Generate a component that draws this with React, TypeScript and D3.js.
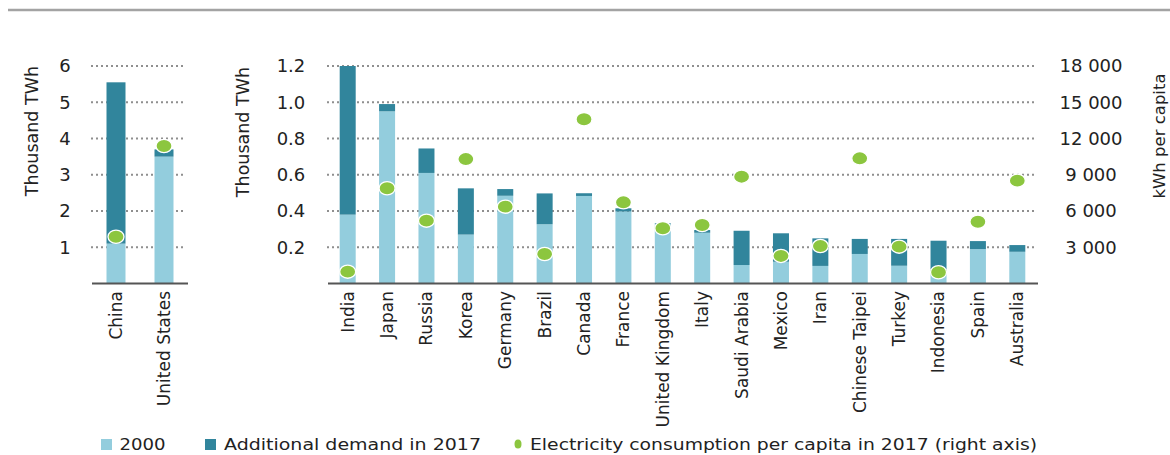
import * as d3 from "d3";

// ---- data ----
const leftCats = ["China", "United States"];
const left2000 = [1.1, 3.5];
const leftAdded = [4.45, 0.2];
const leftPerCapita = [3870, 11380];
const leftTicks = [1, 2, 3, 4, 5, 6];

const rightCats = [
  "India", "Japan", "Russia", "Korea", "Germany", "Brazil", "Canada", "France",
  "United Kingdom", "Italy", "Saudi Arabia", "Mexico", "Iran", "Chinese Taipei",
  "Turkey", "Indonesia", "Spain", "Australia",
];
const right2000 = [
  0.38, 0.95, 0.61, 0.27, 0.484, 0.327, 0.483, 0.397, 0.327, 0.28, 0.102, 0.12,
  0.097, 0.163, 0.098, 0.08, 0.19, 0.175,
];
const rightAdded = [
  0.82, 0.04, 0.135, 0.255, 0.037, 0.17, 0.015, 0.018, 0.005, 0.015, 0.189, 0.157,
  0.152, 0.083, 0.148, 0.156, 0.044, 0.037,
];
const rightPerCapita = [
  980, 7880, 5200, 10300, 6360, 2440, 13590, 6720, 4570, 4840, 8840, 2280, 3100,
  10360, 3050, 930, 5110, 8510,
];
const rightTicks = [0.2, 0.4, 0.6, 0.8, 1.0, 1.2];
const perCapitaTicks = [3000, 6000, 9000, 12000, 15000, 18000];

const legendLabels = [
  "2000",
  "Additional demand in 2017",
  "Electricity consumption per capita in 2017 (right axis)",
];

// ---- styling ----
const W = 1170;
const H = 455;
const Y0 = 283.5;
const YTOP = 66;
const LIGHT = "#93cddd";
const DARK = "#31859c";
const GREEN = "#8cc63f";
const GRID = "#8f8f8f";
const TEXT = "#222";
const FONT = "'DejaVu Sans', sans-serif";

const yLeft = d3.scaleLinear().domain([0, 6]).range([Y0, YTOP]);
const yRight = d3.scaleLinear().domain([0, 1.2]).range([Y0, YTOP]);
const yPC = d3.scaleLinear().domain([0, 18000]).range([Y0, YTOP]);
const xLeft = d3.scalePoint<string>().domain(leftCats).range([92, 188]).padding(0.5);
const xRight = d3.scalePoint<string>().domain(rightCats).range([328, 1037]).padding(0.5);

const spaced = d3.formatLocale({
  decimal: ".",
  thousands: " ",
  grouping: [3],
  currency: ["", ""],
}).format(",");
const oneDec = d3.format(".1f");

function Panel({
  cats, base, added, perCapita, x, y, barW, baseX,
}: {
  cats: string[]; base: number[]; added: number[]; perCapita: number[];
  x: d3.ScalePoint<string>; y: d3.ScaleLinear<number, number>;
  barW: number; baseX: [number, number];
}) {
  return (
    <g>
      {cats.map((c, i) => {
        const cx = x(c)!;
        const yb = y(base[i]);
        const yt = y(base[i] + added[i]);
        return (
          <g key={c}>
            <rect x={cx - barW / 2} y={yb} width={barW} height={Y0 - yb} fill={LIGHT} />
            <rect x={cx - barW / 2} y={yt} width={barW} height={yb - yt} fill={DARK} />
          </g>
        );
      })}
      <line x1={baseX[0]} x2={baseX[1]} y1={Y0} y2={Y0} stroke="#555" strokeWidth={2} />
      {cats.map((c, i) => (
        <ellipse
          key={c + "-dot"}
          cx={x(c)!}
          cy={yPC(perCapita[i])}
          rx={8}
          ry={6.6}
          fill={GREEN}
          stroke="#fff"
          strokeWidth={1.3}
        />
      ))}
      {cats.map((c) => (
        <text
          key={c + "-lab"}
          transform={`translate(${x(c)!},291) rotate(-90)`}
          textAnchor="end"
          dy="0.35em"
          fontSize={17}
          fill={TEXT}
        >
          {c}
        </text>
      ))}
    </g>
  );
}

function Grid({ ticks, y, x1, x2 }: { ticks: number[]; y: d3.ScaleLinear<number, number>; x1: number; x2: number }) {
  return (
    <g>
      {ticks.map((t) => (
        <line
          key={t}
          x1={x1}
          x2={x2}
          y1={y(t)}
          y2={y(t)}
          stroke={GRID}
          strokeWidth={1.8}
          strokeDasharray="2 3"
        />
      ))}
    </g>
  );
}

export default function App() {
  return (
    <svg
      width={W}
      height={H}
      viewBox={`0 0 ${W} ${H}`}
      style={{ position: "absolute", left: 0, top: 0, background: "#fff" }}
      fontFamily={FONT}
    >
      <line x1={8} x2={W} y1={10} y2={10} stroke="#a3a3a3" strokeWidth={2.5} />

      {/* grids */}
      <Grid ticks={leftTicks} y={yLeft} x1={91} x2={186} />
      <Grid ticks={rightTicks} y={yRight} x1={327} x2={1036} />

      {/* left panel: China, United States */}
      <Panel
        cats={leftCats}
        base={left2000}
        added={leftAdded}
        perCapita={leftPerCapita}
        x={xLeft}
        y={yLeft}
        barW={19}
        baseX={[92, 188]}
      />
      {leftTicks.map((t) => (
        <text key={t} x={65} y={yLeft(t)} dy="0.35em" textAnchor="middle" fontSize={18} fill={TEXT}>
          {t}
        </text>
      ))}
      <text transform="translate(32,131) rotate(-90)" textAnchor="middle" dy="0.35em" fontSize={17.5} fill={TEXT}>
        Thousand TWh
      </text>

      {/* right panel */}
      <Panel
        cats={rightCats}
        base={right2000}
        added={rightAdded}
        perCapita={rightPerCapita}
        x={xRight}
        y={yRight}
        barW={16}
        baseX={[328, 1038]}
      />
      {rightTicks.map((t) => (
        <text key={t} x={291} y={yRight(t)} dy="0.35em" textAnchor="middle" fontSize={18} fill={TEXT}>
          {oneDec(t)}
        </text>
      ))}
      <text transform="translate(243,132) rotate(-90)" textAnchor="middle" dy="0.35em" fontSize={17.5} fill={TEXT}>
        Thousand TWh
      </text>
      {perCapitaTicks.map((t) => (
        <text key={t} x={1091} y={yPC(t)} dy="0.35em" textAnchor="middle" fontSize={18} fill={TEXT}>
          {spaced(t)}
        </text>
      ))}
      <text transform="translate(1159,136) rotate(-90)" textAnchor="middle" dy="0.35em" fontSize={16.5} fill={TEXT}>
        kWh per capita
      </text>

      {/* legend */}
      <rect x={101} y={439} width={11} height={11} fill={LIGHT} />
      <text x={119.5} y={450} fontSize={16.5} fill={TEXT} textLength={46} lengthAdjust="spacingAndGlyphs">
        {legendLabels[0]}
      </text>
      <rect x={205} y={439} width={11} height={11} fill={DARK} />
      <text x={224} y={450} fontSize={16.5} fill={TEXT} textLength={257} lengthAdjust="spacingAndGlyphs">
        {legendLabels[1]}
      </text>
      <ellipse cx={518} cy={444} rx={3.5} ry={4.5} fill={GREEN} />
      <text x={530} y={450} fontSize={16.5} fill={TEXT} textLength={507} lengthAdjust="spacingAndGlyphs">
        {legendLabels[2]}
      </text>
    </svg>
  );
}
